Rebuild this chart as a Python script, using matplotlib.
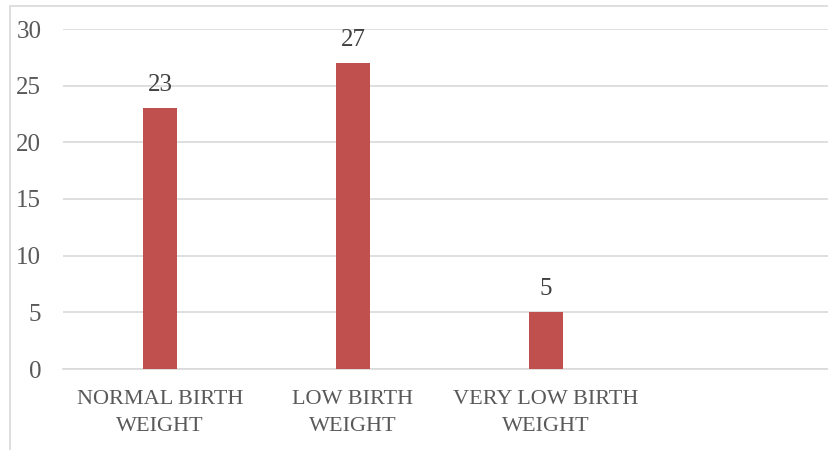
import matplotlib
matplotlib.use("Agg")
import matplotlib.pyplot as plt
from matplotlib.patches import Rectangle

categories = ["NORMAL BIRTH\nWEIGHT", "LOW BIRTH\nWEIGHT", "VERY LOW BIRTH\nWEIGHT", ""]
values = [23, 27, 5, None]
yticks = [0, 5, 10, 15, 20, 25, 30]

W, H = 829, 450
fig = plt.figure(figsize=(W / 100, H / 100), dpi=100)
plt.rcParams['font.family'] = ['Liberation Serif', 'DejaVu Serif']

# outer chart frame (partially cropped)
fig.patches.append(Rectangle((10 / W, 1 - 6 / H - 2), 2, 2, transform=fig.transFigure,
                             fill=False, edgecolor='#d9d9d9', linewidth=1.2, zorder=0))

left, right = 63.5, 835.5
top, bottom = 29, 369
ax = fig.add_axes([left / W, 1 - bottom / H, (right - left) / W, (bottom - top) / H])
ax.set_facecolor('none')

xs = list(range(len(categories)))
bar_x = [x for x, v in zip(xs, values) if v is not None]
bar_v = [v for v in values if v is not None]
bars = ax.bar(bar_x, bar_v, width=0.175, color='#c0504d', zorder=3)
for x, v in zip(bar_x, bar_v):
    ax.annotate(str(v), (x, v), xytext=(0, 9), textcoords='offset points',
                ha='center', va='bottom', fontsize=18, color='#404040')

ax.set_xlim(-0.5, len(categories) - 0.5)
ax.set_ylim(0, 30)
ax.set_yticks(yticks)
ax.set_yticklabels([str(t) for t in yticks], fontsize=18, color='#595959')
ax.set_xticks(xs)
ax.set_xticklabels(categories, fontsize=16, color='#595959', linespacing=1.55)
ax.tick_params(axis='y', length=0, pad=16)
ax.tick_params(axis='x', length=0, pad=15)
ax.grid(axis='y', color='#d9d9d9', linewidth=1.2, zorder=0)
for s in ['top', 'right', 'left']:
    ax.spines[s].set_visible(False)
ax.spines['bottom'].set_color('#d9d9d9')
ax.spines['bottom'].set_linewidth(1.2)

fig.savefig('out.png', dpi=100)
